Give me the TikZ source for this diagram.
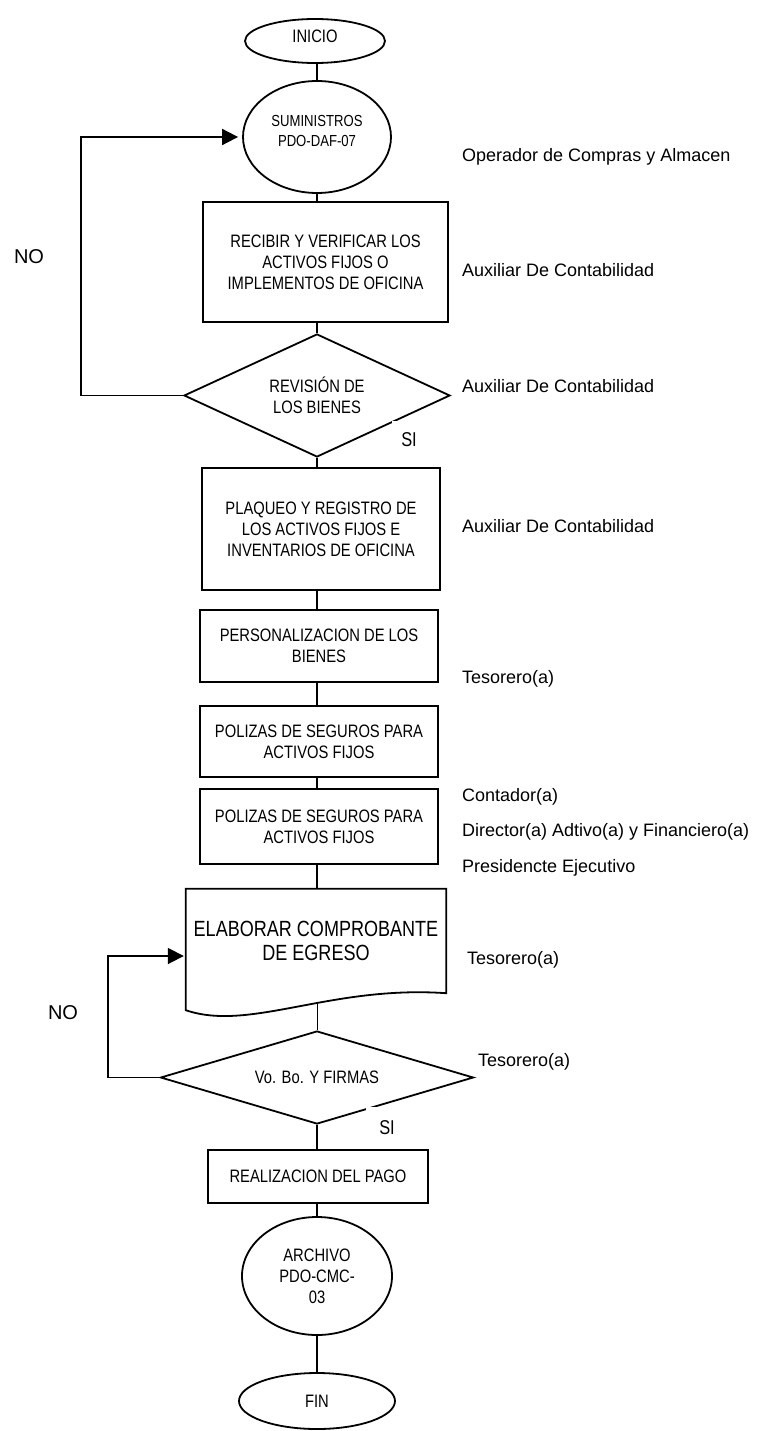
\documentclass[tikz,border=0pt]{standalone}
\usepackage{fontspec}
\setmainfont{Liberation Sans}
\newfontfamily\condfont{Liberation Sans}[FakeStretch=0.82]
\usetikzlibrary{shapes.geometric,arrows.meta,calc}
\begin{document}
\begin{tikzpicture}[x=1pt,y=-1pt,
  line/.style={line width=1.8pt, draw=black},
  boxtxt/.style={font=\condfont\fontsize{18}{21}\selectfont, align=center},
  procbox/.style={line, boxtxt, rectangle, inner sep=0pt},
  term/.style={line, boxtxt, ellipse, inner sep=0pt},
  decis/.style={line, boxtxt, diamond, aspect=2, inner sep=0pt},
  role/.style={font=\fontsize{18}{21}\selectfont, anchor=west, inner sep=0pt},
  flow/.style={line},
  loopflow/.style={line, -{Triangle[length=16pt,width=16pt]}},
  yesno/.style={font=\condfont\fontsize{20}{22}\selectfont, fill=white, inner sep=0pt},
  nolabel/.style={font=\fontsize{20}{22}\selectfont, inner sep=0pt},
]
\useasboundingbox (0,0) rectangle (761,1431);

% main flow
\node[term, minimum width=140pt, minimum height=44pt, text depth=9pt] (inicio) at (315,41) {INICIO};
\node[term, font=\condfont\fontsize{16}{20}\selectfont, minimum width=148pt, minimum height=112pt, text depth=12pt] (sum) at (317,137) {SUMINISTROS\\PDO-DAF-07};
\node[procbox, minimum width=245pt, minimum height=120pt] (recibir) at (325.5,262) {RECIBIR Y VERIFICAR LOS\\ACTIVOS FIJOS O\\IMPLEMENTOS DE OFICINA};
\node[decis, minimum width=266pt, minimum height=123pt] (d1) at (317,395.5) {REVISIÓN DE\\LOS BIENES};
\node[procbox, minimum width=238pt, minimum height=122pt] (plaq) at (321,529) {PLAQUEO Y REGISTRO DE\\LOS ACTIVOS FIJOS E\\INVENTARIOS DE OFICINA};
\node[procbox, minimum width=238pt, minimum height=72pt] (pers) at (319,646) {PERSONALIZACION DE LOS\\BIENES};
\node[procbox, minimum width=238pt, minimum height=71pt] (pol1) at (319,741.5) {POLIZAS DE SEGUROS PARA\\ACTIVOS FIJOS};
\node[procbox, minimum width=238pt, minimum height=75pt] (pol2) at (319,826.5) {POLIZAS DE SEGUROS PARA\\ACTIVOS FIJOS};
\node[boxtxt, font=\condfont\fontsize{22}{24}\selectfont, minimum width=260pt, minimum height=104pt, inner sep=0pt] (elab) at (316,941) {ELABORAR COMPROBANTE\\DE EGRESO};
\draw[line] (elab.north west) -- (elab.north east) -- (elab.south east)
  .. controls (330,985) and (250,1032) .. coordinate[pos=0.42] (eb) ($(elab.south west)+(0,17)$) -- cycle;
\node[decis, minimum width=313pt, minimum height=93pt] (d2) at (317,1077.5) {Vo. Bo. Y FIRMAS};
\node[procbox, minimum width=220pt, minimum height=53pt] (real) at (318,1176.5) {REALIZACION DEL PAGO};
\node[term, minimum width=150pt, minimum height=118pt] (arch) at (317,1276) {ARCHIVO\\PDO-CMC-\\03};
\node[term, minimum width=156pt, minimum height=56pt] (fin) at (317,1401) {FIN};

% connectors
\coordinate (sp) at (317,0);
\draw[flow] (inicio.south -| sp) -- (sum.north -| sp);
\draw[flow] (sum.south -| sp) -- (recibir.north -| sp);
\draw[flow] (recibir.south -| sp) -- (d1.north -| sp);
\draw[flow] (d1.south -| sp) -- (plaq.north -| sp);
\draw[flow] (plaq.south -| sp) -- (pers.north -| sp);
\draw[flow] (pers.south -| sp) -- (pol1.north -| sp);
\draw[flow] (pol1.south -| sp) -- (pol2.north -| sp);
\draw[flow] (pol2.south -| sp) -- (elab.north -| sp);
\draw[flow] (eb) -- (eb |- d2.north);
\draw[flow] (d2.south -| sp) -- (real.north -| sp);
\draw[flow] (real.south -| sp) -- (arch.north -| sp);
\draw[flow] (arch.south -| sp) -- (fin.north -| sp);

% loops
\coordinate (lp1) at (81,137);
\draw[loopflow, shorten >=4pt] (d1.west) -| (lp1) -- (sum.west);
\coordinate (lp2) at (108,956);
\draw[loopflow, shorten >=2pt] (d2.west) -| (lp2) -- (lp2 -| elab.west);

% yes / no labels
\node[yesno, minimum width=34pt, minimum height=38pt] (si1) at (409,440) {SI};
\node[yesno, minimum width=42pt, minimum height=42pt] (si2) at (387,1128) {SI};
\node[nolabel] (no1) at (29,257) {NO};
\node[nolabel] (no2) at (63,1013) {NO};

% roles
\node[role] (r1) at (462,157) {Operador de Compras y Almacen};
\node[role] (r2) at (462,270) {Auxiliar De Contabilidad};
\node[role] (r3) at (462,386) {Auxiliar De Contabilidad};
\node[role] (r4) at (462,526) {Auxiliar De Contabilidad};
\node[role] (r5) at (462,679) {Tesorero(a)};
\node[role] (r6) at (462,797) {Contador(a)};
\node[role] (r7) at (462,832) {Director(a) Adtivo(a) y Financiero(a)};
\node[role] (r8) at (462,868) {Presidencte Ejecutivo};
\node[role] (r9) at (467,960) {Tesorero(a)};
\node[role] (r10) at (478,1062) {Tesorero(a)};
\end{tikzpicture}
\end{document}
